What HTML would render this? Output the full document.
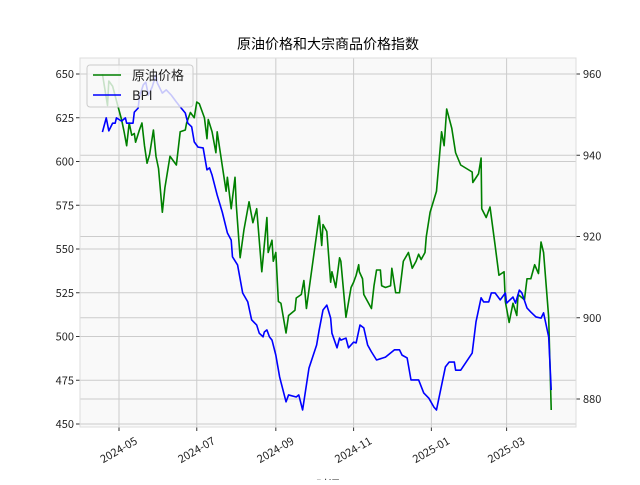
<!DOCTYPE html>
<html><head><meta charset="utf-8"><style>
body{margin:0;background:#fff;font-family:"Liberation Sans","Noto Sans CJK SC",sans-serif}
svg text{font-family:"Noto Sans CJK SC","WenQuanYi Zen Hei",sans-serif}
</style></head><body>
<svg id="c" width="640" height="480" xmlns="http://www.w3.org/2000/svg"></svg>
<script>
const monthTickDays=[0,61,123,184,245,304];
const monthTickLabels=["2024-05","2024-07","2024-09","2024-11","2025-01","2025-03"];
const leftTicks=[450,475,500,525,550,575,600,625,650];
const rightTicks=[880,900,920,940,960];
const oilDays=[-13,-9,-8,-5,-1,2,4,6,8,10,12,13,16,18,20,22,24,27,29,31,34,36,40,45,48,52,53,56,59,61,63,67,69,70,73,76,77,84,85,88,91,92,95,98,102,105,108,112,116,117,120,121,123,125,127,131,133,138,139,143,145,147,157,159,160,163,166,167,170,173,174,178,182,184,186,188,188.5,191,192,195,198,200,202,205,206,209,213,214,217,220,223,227,229,230,233,235,237,240,241,244,249,253,255,257,261,264,268,277,277.5,282,284,284.5,288,291,295,298,302,303,306,309,312,313,318,320,323,326,329,331,333,337,339];
const oilValues=[650,632,646,643,632,624,617,609,622,615,616,611,618,622,609,599,604,618,603,596,571,585,603,598,617,618,622,628,625,634,633,625,613,624,617,605,617,583,591,573,591,575,545,561,577,565,573,537,568,548,555,543,548,520,519,502,512,515,522,524,532,516,569,552,564,560,531,537,528,545,543,511,528,531,535,541,537,533,524,520,516,529,538,538,529,528,529,539,525,525,543,548,542,539,543,547,544,548,557,571,583,617,609,630,619,605,598,594,588,593,602,573,568,574,552,535,537,520,508,519,512,524,521,533,533,541,536,554,548,511,458];
const bpiDays=[-13,-10,-8,-5,-3,-2,2,5,6,11,12,15,16,19,21,23,26,29,30,34,37,41,45,48,52,54,57,59,62,66,69,71,73,77,81,85,88,89,93,97,101,104,108,110,113,114,116,118,120,123,126,131,133,139,141,144,149,155,157,160,163,166,167,171,173,174,178,180,184,186,189,192,195,198,202,209,216,220,222,226,229,235,239,243,247,249,256,259,263,264,268,277,280,284,286,290,292,295,299,303,304,309,311,314,316,320,323,327,331,333,337,339];
const bpiValues=[945.7,949.2,946.0,947.9,947.9,949.2,948.4,949.2,947.9,947.9,950.6,951.6,954.3,957.3,958.0,954.8,956.8,959.8,957.8,955.3,956.1,954.8,953.1,951.9,950.4,947.9,947.0,943.3,942.0,941.8,936.4,936.9,935.1,930.2,926.0,920.9,919.1,915.0,913.0,906.1,903.9,899.5,898.2,896.2,895.3,896.5,897.0,895.3,894.5,890.8,885.4,879.3,881.0,880.5,881.0,877.3,887.6,893.3,897.0,901.9,903.1,899.9,896.2,892.6,895.0,894.5,895.0,892.6,894.0,893.8,898.2,897.5,893.3,891.6,889.6,890.3,892.1,892.1,890.8,890.1,884.7,884.7,881.5,880.2,878.0,877.3,887.9,889.1,889.1,887.1,887.1,891.3,899.0,904.9,903.9,903.9,906.1,906.1,904.4,906.1,903.6,905.1,903.6,906.8,906.1,902.4,901.4,900.2,899.9,901.2,895.3,882.2];

const svg=document.getElementById('c');
const NS='http://www.w3.org/2000/svg';
const L=80,R=576,T=58,B=427;
const xS=d=>119+1.275*d;
const yL=v=>424-(v-450)*1.75;
const yR=v=>399-(v-880)*4.0625;
function mk(t,a,p){const e=document.createElementNS(NS,t);for(const k in a)e.setAttribute(k,a[k]);(p||svg).appendChild(e);return e;}

let bg=mk('rect',{x:L,y:T,width:R-L,height:B-T,fill:'#f9f9f9'});



monthTickDays.forEach((d,i)=>{
  const x=xS(d);
  let g=mk('line',{x1:x,x2:x,y1:T,y2:B,stroke:'#cccccc','stroke-width':1});
  
  
  mk('line',{x1:x,x2:x,y1:B,y2:B+4,stroke:'#333'});
  const ax=x+15, ay=B+9;
  let t=mk('text',{x:ax,y:ay,'font-size':11,fill:'#222','text-anchor':'end',transform:`rotate(-30 ${ax} ${ay})`,dy:'0.75em'});
  t.textContent=monthTickLabels[i];
  
  
});
leftTicks.forEach(v=>{
  const y=yL(v);
  let g=mk('line',{x1:L,x2:R,y1:y,y2:y,stroke:'#cccccc','stroke-width':1});
  
  
  mk('line',{x1:L-4,x2:L,y1:y,y2:y,stroke:'#333'});
  let t=mk('text',{x:L-6,y:y+4,'font-size':11,fill:'#222','text-anchor':'end'});
  t.textContent=v;
  
  
});
rightTicks.forEach(v=>{
  const y=yR(v);
  let g=mk('line',{x1:L,x2:R,y1:y,y2:y,stroke:'#cccccc','stroke-width':1});
  
  
  mk('line',{x1:R,x2:R+4,y1:y,y2:y,stroke:'#333'});
  let t=mk('text',{x:R+7,y:y+4,'font-size':11,fill:'#222'});
  t.textContent=v;
  
  
});

let oil=mk('polyline',{points:oilDays.map((d,i)=>xS(d)+','+yL(oilValues[i])).join(' '),fill:'none',stroke:'#008000','stroke-width':1.6,'stroke-linejoin':'round'});


let bpi=mk('polyline',{points:bpiDays.map((d,i)=>xS(d)+','+yR(bpiValues[i])).join(' '),fill:'none',stroke:'#0000ff','stroke-width':1.6,'stroke-linejoin':'round'});



let fr=mk('rect',{x:L,y:T,width:R-L,height:B-T,fill:'none',stroke:'#dddddd'});



let lg=mk('g',{});


mk('rect',{x:87,y:65,width:106,height:42,rx:3,fill:'#f9f9f9','fill-opacity':0.8,stroke:'#cccccc'},lg);
mk('line',{x1:93,x2:121,y1:75,y2:75,stroke:'#008000','stroke-width':1.6},lg);
mk('line',{x1:93,x2:121,y1:95,y2:95,stroke:'#0000ff','stroke-width':1.6},lg);
let l1=mk('text',{x:132,y:80,'font-size':13,fill:'#222'},lg);l1.textContent='原油价格';


let l2=mk('text',{x:132,y:100,'font-size':13,fill:'#222'},lg);l2.textContent='BPI';



let ti=mk('text',{x:328,y:49,'font-size':14,fill:'#000','text-anchor':'middle'});
ti.textContent='原油价格和大宗商品价格指数';


let xt=mk('text',{x:328,y:489,'font-size':12,fill:'#222','text-anchor':'middle'});
xt.textContent='时间';


</script>
</body></html>
